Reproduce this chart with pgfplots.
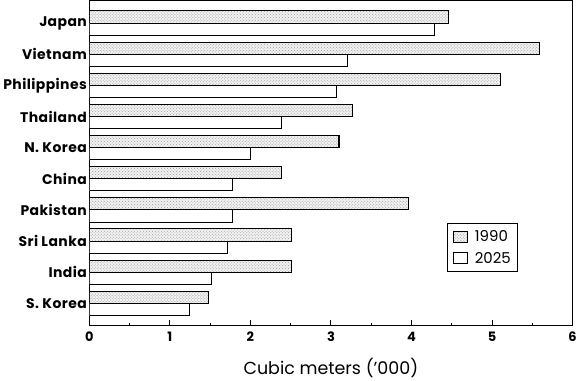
\documentclass[border=0pt]{standalone}
\usepackage{pgfplots}
\pgfplotsset{compat=1.18}
\usepackage{fontspec}
\setmainfont{Poppins}
\newfontfamily\labfont[LetterSpace=3]{Poppins}
\usetikzlibrary{patterns}
\begin{document}
\begin{tikzpicture}
\begin{axis}[
  scale only axis,
  width=483bp, height=325bp,
  xmin=0, xmax=6,
  ymin=-0.72, ymax=9.72,
  y dir=reverse,
  xbar, bar width=0.39, bar shift=0pt,
  axis line style={line width=1.3pt},
  xtick={0,1,2,3,4,5,6},
  minor xtick={0.5,1.5,2.5,3.5,4.5,5.5},
  tick align=inside,
  xtick pos=bottom,
  major tick length=6bp, minor tick length=3bp,
  every tick/.style={line width=1pt, black},
  ytick={0,...,9},
  yticklabels={Japan,Vietnam,Philippines,Thailand,N. Korea,China,Pakistan,Sri Lanka,India,S. Korea},
  major y tick style={draw=none},
  yticklabel style={font=\labfont\bfseries\fontsize{14}{15}\selectfont, xshift=1bp},
  xticklabel style={font=\bfseries\fontsize{13}{14}\selectfont, yshift=-3bp},
  /pgf/number format/assume math mode=true,
  xlabel={Cubic meters ('000)},
  xlabel style={font=\fontsize{17.5}{19}\selectfont, yshift=-9bp},
  legend style={at={(0.741,0.315)}, anchor=north west, draw=black, line width=0.9pt,
    font=\fontsize{15}{16}\selectfont, row sep=5bp, inner sep=5bp},
  legend cell align=left,
  legend image code/.code={\draw[#1, line width=1pt] (0bp,-5bp) rectangle (14bp,6bp); \path (19bp,0bp);},
]
\addplot[draw=black, line width=1.1pt, fill=black!5, postaction={pattern=crosshatch dots, pattern color=black!40}]
  coordinates {(4.46,-0.195) (5.59,0.805) (5.10,1.805) (3.27,2.805) (3.10,3.805) (2.39,4.805) (3.96,5.805) (2.51,6.805) (2.51,7.805) (1.48,8.805)};
\addplot[draw=black, line width=1.1pt, fill=white]
  coordinates {(4.29,0.195) (3.20,1.195) (3.07,2.195) (2.39,3.195) (2.00,4.195) (1.78,5.195) (1.78,6.195) (1.72,7.195) (1.52,8.195) (1.24,9.195)};
\legend{1990,2025}
\end{axis}
\end{tikzpicture}
\end{document}
